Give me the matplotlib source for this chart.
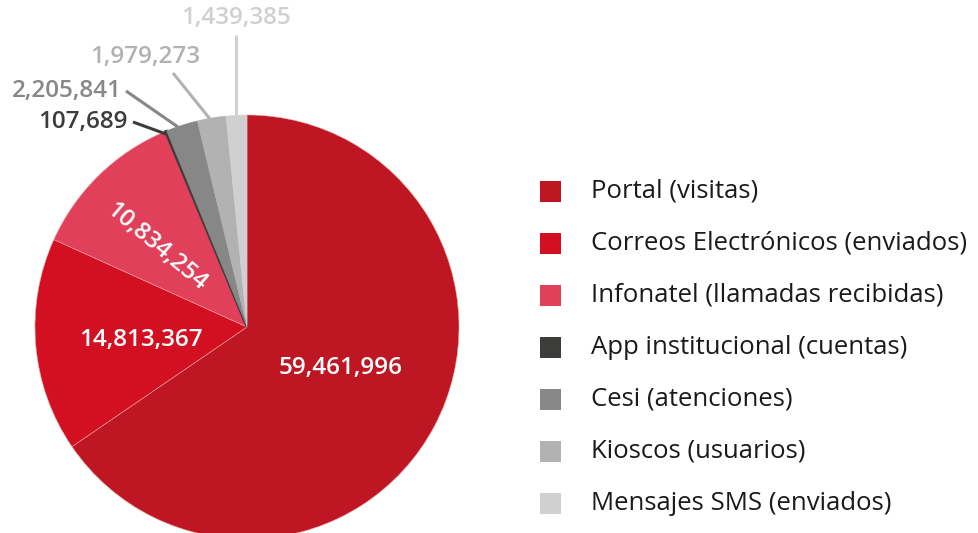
import matplotlib.pyplot as plt
from matplotlib.patches import Rectangle

plt.rcParams['font.family'] = ['Open Sans', 'DejaVu Sans']

# Data
labels = ["Portal (visitas)", "Correos Electrónicos (enviados)", "Infonatel (llamadas recibidas)",
          "App institucional (cuentas)", "Cesi (atenciones)", "Kioscos (usuarios)",
          "Mensajes SMS (enviados)"]
values = [59461996, 14813367, 10834254, 107689, 2205841, 1979273, 1439385]
colors = ["#BE1622", "#D31021", "#E0405A", "#3C3C3B", "#878787", "#B2B2B2", "#D0D0D0"]

W, H = 979, 533
fig = plt.figure(figsize=(W / 100, H / 100), dpi=100)

# pie centre (247, 327) px, radius 212 px
cx, cy, r = 247, 327, 212
ax = fig.add_axes([(cx - r) / W, (H - cy - r) / H, 2 * r / W, 2 * r / H])

wedges, _ = ax.pie(values, colors=colors, startangle=90, counterclock=False, radius=1,
                   wedgeprops=dict(linewidth=0.4, edgecolor='#f0a0a0'))
ax.set_xlim(-1, 1)
ax.set_ylim(-1, 1)
ax.set_aspect('equal')
ax.axis('off')
for w in wedges[3:]:
    w.set_edgecolor(w.get_facecolor())
    w.set_linewidth(0.3)
wedges[3].set_linewidth(1.6)

def px(x, y):
    return ((x - cx) / r, (cy - y) / r)

def fmt(v):
    return f"{v:,}"

fs = 17.5
# labels inside
ax.text(*px(341, 368), fmt(values[0]), color='white', fontsize=fs, fontweight='semibold',
        ha='center', va='center')
ax.text(*px(141, 340), fmt(values[1]), color='white', fontsize=fs, fontweight='semibold',
        ha='center', va='center')
ax.text(*px(156, 247), fmt(values[2]), color='white', fontsize=fs, fontweight='semibold',
        ha='center', va='center', rotation=-40, rotation_mode='anchor')

# outside labels with leader lines
outside = [
    (3, (128, 122), (133, 122), (166, 134), 'right'),
    (4, (122, 91), (126, 91), (178, 127), 'right'),
    (5, (200, 57), (173, 73), (210, 119), 'right'),
    (6, (236, 18), (236, 35), (236, 117), 'center'),
]
for i, tpos, p0, p1, ha in outside:
    ax.plot(*zip(px(*p0), px(*p1)), color=colors[i], lw=2.2, clip_on=False,
            solid_capstyle='butt')
    ax.text(*px(*tpos), fmt(values[i]), color=colors[i], fontsize=fs, fontweight='semibold',
            ha=ha, va='center', clip_on=False)

# legend
for k, (name, c) in enumerate(zip(labels, colors)):
    yc = 191 + 52 * k
    fig.add_artist(Rectangle((540 / W, (H - yc - 10.5) / H), 21 / W, 21 / H,
                             facecolor=c, edgecolor='none', transform=fig.transFigure))
    fig.text(591 / W, (H - yc) / H, name, fontsize=18.5, color='#1a1a1a',
             ha='left', va='center')

fig.savefig('out.png', dpi=100)
